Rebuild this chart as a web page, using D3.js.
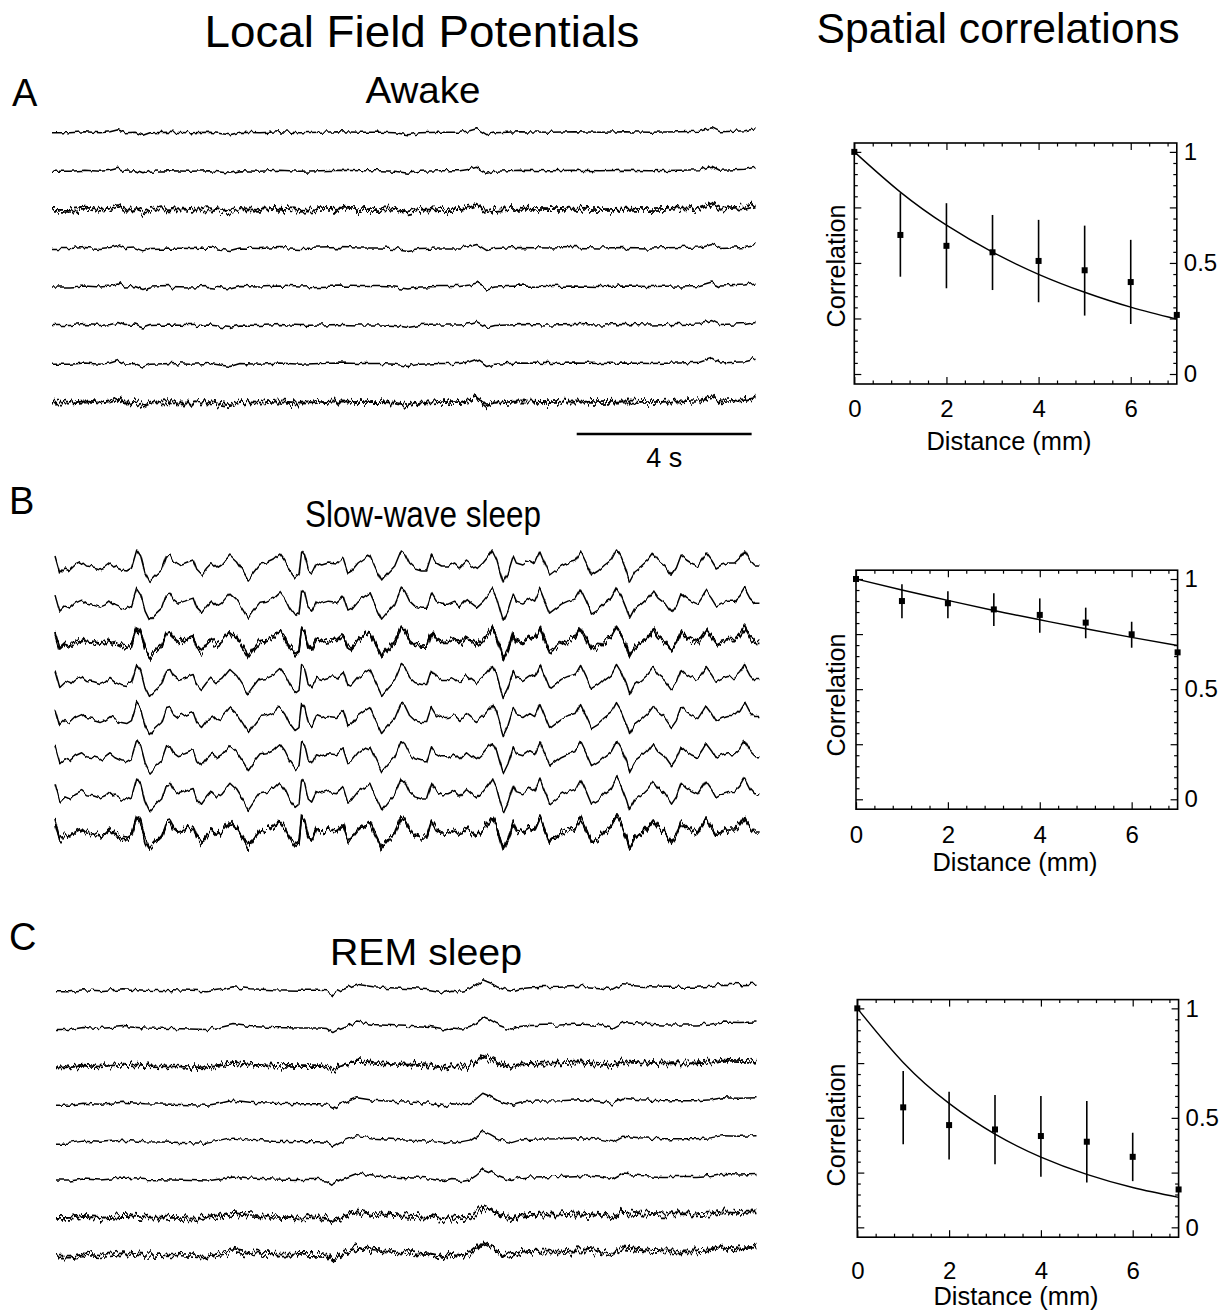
<!DOCTYPE html>
<html>
<head>
<meta charset="UTF-8">
<title>Local Field Potentials / Spatial correlations</title>
<script src="https://d3js.org/d3.v7.min.js"></script>
<style>
  body { margin: 0; background: #fff; }
  text { font-family: "Liberation Sans", Arial, sans-serif; fill: #000; }
</style>
</head>
<body>
<svg id="fig" width="1226" height="1310"></svg>
<script>
// ---- LFP traces: [time (s), amplitude (a.u.)], shared shape of each state ----
const channels = [1, 2, 3, 4, 5, 6, 7, 8];

const awakeWave = [[0,0],[0.41,0],[0.75,1],[1.10,0],[1.33,1],[1.51,3],[1.67,0],[1.90,0.5],[2.08,-2.5],[2.24,0],
  [2.70,0.5],[3.15,0],[3.61,0.5],[4.07,-2],[4.30,0.5],[4.75,0],[5.21,1],[5.67,0],[6.13,0.5],[6.58,1],[7.04,0.5],
  [7.50,0.5],[7.84,0],[8.14,-2],[8.41,0],[8.87,0.5],[9.33,0.5],[9.55,2],[9.71,4],[9.83,1],[9.94,-2],[10.13,0],
  [10.70,1],[11.38,0.5],[11.95,1],[12.53,0.5],[13.10,1],[13.67,0.5],[14.35,1],[14.81,1.5],[15.09,5],[15.27,1],
  [15.61,1.5],[15.84,2],[16.09,4]];

const swsWave = [[0.00,12],[0.11,-5],[0.23,0],[0.34,-2],[0.46,3],[0.61,6],[0.72,2],[0.87,1],[1.03,-1],[1.14,1],
  [1.26,5],[1.37,1],[1.52,-2],[1.64,-3],[1.75,0],[1.87,18],[1.96,12],[2.06,-5],[2.16,-14],[2.29,-8],[2.44,-2],
  [2.55,12],[2.63,13],[2.70,7],[2.82,3],[2.97,5],[3.09,7],[3.16,8],[3.24,-2],[3.35,-7],[3.47,0],[3.58,5],
  [3.70,0],[3.81,3],[4.00,13],[4.15,7],[4.30,-3],[4.42,-12],[4.53,-5],[4.69,4],[4.84,5],[4.99,8],[5.14,14],
  [5.26,7],[5.37,-3],[5.49,-10],[5.58,-7],[5.64,17],[5.71,13],[5.79,-2],[5.87,-5],[5.98,5],[6.10,3],[6.25,5],
  [6.44,4],[6.59,10],[6.70,-5],[6.78,-3],[6.93,5],[7.09,10],[7.20,13],[7.31,2],[7.47,-13],[7.62,-5],[7.77,2],
  [7.92,18],[8.00,15],[8.11,5],[8.23,0],[8.38,-2],[8.50,-2],[8.61,13],[8.72,5],[8.84,2],[8.99,2],[9.14,5],
  [9.26,0],[9.41,7],[9.52,3],[9.64,-1],[9.79,5],[9.94,13],[10.00,17],[10.10,8],[10.17,-3],[10.25,-15],
  [10.36,-5],[10.48,12],[10.55,5],[10.70,3],[10.86,8],[10.97,5],[11.09,17],[11.20,5],[11.31,-7],[11.43,-3],
  [11.58,2],[11.73,5],[11.89,7],[12.02,17],[12.15,5],[12.27,-7],[12.42,-3],[12.57,3],[12.72,8],[12.84,18],
  [12.95,10],[13.07,-3],[13.14,-13],[13.26,-3],[13.41,2],[13.56,8],[13.68,15],[13.79,8],[13.94,3],[14.10,-7],
  [14.21,0],[14.32,13],[14.44,8],[14.55,5],[14.70,2],[14.82,10],[14.89,15],[15.01,8],[15.12,0],[15.24,3],
  [15.39,5],[15.54,5],[15.66,10],[15.77,18],[15.89,8],[16.00,3],[16.11,3]];

const remWave = [[0,0],[0.32,0],[0.62,2],[1.01,1],[1.53,3],[2.03,1.5],[2.67,1],[3.45,0],[3.75,2],[4.05,5],
  [4.43,3],[4.96,2],[5.58,1.5],[6.03,1.5],[6.19,1],[6.33,-3],[6.49,1],[6.88,7.5],[7.25,5],[7.86,3.5],[8.16,3],
  [8.55,2],[8.89,-0.5],[9.05,1.5],[9.28,0.5],[9.46,2],[9.60,6],[9.76,12],[9.92,9],[10.08,5],[10.26,2],
  [10.42,0.5],[10.61,3],[10.83,4],[11.52,4.5],[11.98,5.5],[12.43,4],[12.73,1.5],[12.96,7],[13.35,5.5],
  [13.87,4.5],[14.65,4.5],[14.99,5.5],[15.24,7.5],[15.63,7],[16.02,7.5]];

// relative amplitude of each channel, and channels with strong fast noise
const awakeGain = [1, 1, 1.3, 1, 1, 1, 1.2, 1.3];
const swsGain   = [1, 1, 0.95, 1, 1, 1, 1.05, 1];
const remGain   = [1, 1, 0.9, 1, 1, 1, 1, 1.2];
const awakeNoisy = [3, 8];
const swsNoisy   = [3, 8];
const remNoisy   = [3, 7, 8];

// ---- Spatial correlations ----
const distances = [0, 1, 2, 3, 4, 5, 6, 7];
const awakeCorr = [1.0, 0.626, 0.577, 0.548, 0.509, 0.467, 0.414, 0.266];
const awakeLow  = [null, 0.438, 0.386, 0.378, 0.323, 0.263, 0.225, null];
const awakeHigh = [null, 0.814, 0.769, 0.716, 0.694, 0.668, 0.604, null];
const awakeFit  = [1.0, 0.819, 0.670, 0.549, 0.449, 0.368, 0.301, 0.247];

const swsCorr = [1.0, 0.90, 0.89, 0.862, 0.837, 0.802, 0.749, 0.667];
const swsLow  = [null, 0.822, 0.822, 0.787, 0.756, 0.731, 0.688, null];
const swsHigh = [null, 0.976, 0.945, 0.935, 0.912, 0.870, 0.806, null];
const swsFit  = [1.0, 0.950, 0.903, 0.857, 0.815, 0.774, 0.735, 0.698];

const remCorr = [1.0, 0.548, 0.467, 0.447, 0.417, 0.391, 0.322, 0.173];
const remLow  = [null, 0.380, 0.310, 0.288, 0.231, 0.205, 0.211, null];
const remHigh = [null, 0.714, 0.619, 0.604, 0.600, 0.577, 0.432, null];
const remFit  = [1.0, 0.753, 0.566, 0.426, 0.321, 0.242, 0.182, 0.137];

const corrTicks = [0, 0.25, 0.5, 0.75, 1];
const corrTickLabels = ["0", "", "0.5", "", "1"];
const distTicks = [0, 2, 4, 6];

const svg = d3.select("#fig");
const defs = svg.append("defs");

// vertical-only jitter to give the traces their fast ripple
function addJitter(id, scale, seed, fx) {
  const f = defs.append("filter").attr("id", id)
    .attr("filterUnits", "userSpaceOnUse")
    .attr("x", 0).attr("y", 0).attr("width", 1226).attr("height", 1310)
    .attr("color-interpolation-filters", "sRGB");
  f.append("feTurbulence").attr("type", "fractalNoise")
    .attr("baseFrequency", fx + " 0.03").attr("numOctaves", 2)
    .attr("seed", seed).attr("result", "noise");
  f.append("feColorMatrix").attr("in", "noise").attr("type", "matrix")
    .attr("values", "0 0 0 0 0.5  0 1 0 0 0  0 0 1 0 0  0 0 0 0 1")
    .attr("result", "map");
  f.append("feDisplacementMap").attr("in", "SourceGraphic").attr("in2", "map")
    .attr("scale", scale).attr("xChannelSelector", "R").attr("yChannelSelector", "G");
}
addJitter("jitLow", 7, 2, 0.2);
addJitter("jitHighA", 15, 7, 0.3);
addJitter("jitHighB", 15, 11, 0.3);

function text(x, y, str, size, len, anchor) {
  const t = svg.append("text").attr("x", x).attr("y", y)
    .attr("font-size", size).attr("text-anchor", anchor || "middle").text(str);
  if (len) t.attr("textLength", len).attr("lengthAdjust", "spacingAndGlyphs");
  return t;
}

// headings
text(422, 47, "Local Field Potentials", 44, 435);
text(998, 43, "Spatial correlations", 43, 363);
text(12, 106, "A", 38, null, "start");
text(9, 514, "B", 38, null, "start");
text(9, 950, "C", 38, null, "start");
text(423, 103, "Awake", 36, 115);
text(423, 527, "Slow-wave sleep", 37, 236);
text(426, 965, "REM sleep", 37, 192);

function drawTraces(wave, gains, noisy, x0, rowTop, rowBottom) {
  const x = d3.scaleLinear().domain([0, 16.1]).range([x0, x0 + 704]);
  const row = d3.scalePoint().domain(channels).range([rowTop, rowBottom]);
  const amp = d3.scaleLinear().domain([0, 1]).range([0, -1]);
  const g = svg.append("g");
  channels.forEach((ch, i) => {
    const line = d3.line()
      .x(d => x(d[0]))
      .y(d => row(ch) + amp(d[1] * gains[i]));
    const heavy = noisy.includes(ch);
    const filters = heavy ? ["jitHighA", "jitHighB"] : ["jitLow"];
    filters.forEach(f => {
      g.append("path")
        .datum(wave)
        .attr("fill", "none")
        .attr("stroke", "#000")
        .attr("stroke-width", heavy ? 1.7 : 1.5)
        .attr("stroke-linejoin", "round")
        .attr("filter", `url(#${f})`)
        .attr("d", line);
    });
  });
  return x;
}

const xAwake = drawTraces(awakeWave, awakeGain, awakeNoisy, 52, 132.7, 402.7);
drawTraces(swsWave, swsGain, swsNoisy, 55, 568, 835);
drawTraces(remWave, remGain, remNoisy, 56, 991.7, 1256.7);

// 4 s scale bar
svg.append("line")
  .attr("x1", xAwake(12)).attr("x2", xAwake(16))
  .attr("y1", 434).attr("y2", 434)
  .attr("stroke", "#000").attr("stroke-width", 2.5);
text((xAwake(12) + xAwake(16)) / 2, 467, "4 s", 27);

function drawCorr(mean, low, high, fit, box, labels) {
  const x = d3.scaleLinear().domain([0, 7]).range([box.left, box.right]);
  const y = d3.scaleLinear().domain([-0.045, 1.04]).range([box.bottom, box.top]);
  const g = svg.append("g");

  const minorY = d3.range(0, 1.0001, 0.05).filter(v => !corrTicks.some(t => Math.abs(t - v) < 1e-6));
  const minorX = d3.range(0, 7.0001, 0.4).filter(v => !distTicks.some(t => Math.abs(t - v) < 1e-6));

  function axis(gen, tr, vals, size, fmt, pad) {
    const a = g.append("g").attr("transform", tr)
      .call(gen.tickValues(vals).tickSize(size).tickPadding(pad || 3).tickFormat(fmt));
    a.select(".domain").remove();
    a.selectAll("line").attr("stroke", "#000").attr("stroke-width", 1.2);
    a.selectAll("text").attr("font-size", 24).attr("font-family", "Liberation Sans, Arial, sans-serif").attr("fill", "#000");
    return a;
  }
  const none = () => "";
  axis(d3.axisLeft(y), `translate(${box.left},0)`, corrTicks, -7, none);
  axis(d3.axisLeft(y), `translate(${box.left},0)`, minorY, -3.5, none);
  axis(d3.axisRight(y), `translate(${box.right},0)`, corrTicks, -7, (d, i) => corrTickLabels[i], 7);
  axis(d3.axisRight(y), `translate(${box.right},0)`, minorY, -3.5, none);
  axis(d3.axisBottom(x), `translate(0,${box.bottom})`, distTicks, -7, d3.format("d"), labels.tickPad);
  axis(d3.axisBottom(x), `translate(0,${box.bottom})`, minorX, -3.5, none);
  axis(d3.axisTop(x), `translate(0,${box.top})`, distTicks, -7, none);
  axis(d3.axisTop(x), `translate(0,${box.top})`, minorX, -3.5, none);

  g.append("rect")
    .attr("x", box.left).attr("y", box.top)
    .attr("width", box.right - box.left).attr("height", box.bottom - box.top)
    .attr("fill", "none").attr("stroke", "#000").attr("stroke-width", 1.6);

  // exponential fit
  g.append("path")
    .datum(distances.map((d, i) => [d, fit[i]]))
    .attr("fill", "none").attr("stroke", "#000").attr("stroke-width", 1.4)
    .attr("d", d3.line().x(d => x(d[0])).y(d => y(d[1])).curve(d3.curveNatural));

  // error bars
  g.selectAll(".err")
    .data(distances.filter((d, i) => low[i] !== null))
    .join("line")
    .attr("x1", d => x(d)).attr("x2", d => x(d))
    .attr("y1", d => y(low[d])).attr("y2", d => y(high[d]))
    .attr("stroke", "#000").attr("stroke-width", 1.6);

  // mean markers
  g.selectAll(".pt")
    .data(distances)
    .join("rect")
    .attr("x", d => x(d) - 3).attr("y", (d, i) => y(mean[i]) - 3)
    .attr("width", 6).attr("height", 6)
    .attr("fill", "#000");

  svg.append("text")
    .attr("transform", `translate(845,${labels.corrY}) rotate(-90)`)
    .attr("font-size", 25).attr("text-anchor", "middle")
    .attr("textLength", 123).attr("lengthAdjust", "spacingAndGlyphs")
    .text("Correlation");
  text(labels.distX, labels.distY, "Distance (mm)", 25, 165);
}

drawCorr(awakeCorr, awakeLow, awakeHigh, awakeFit,
  { left: 854.3, right: 1176.8, top: 143, bottom: 384 },
  { corrY: 266, distX: 1009, distY: 450, tickPad: 16 });
drawCorr(swsCorr, swsLow, swsHigh, swsFit,
  { left: 856, right: 1177.6, top: 570.2, bottom: 809.2 },
  { corrY: 695, distX: 1015, distY: 871, tickPad: 17 });
drawCorr(remCorr, remLow, remHigh, remFit,
  { left: 857.3, right: 1178.6, top: 999.6, bottom: 1237.2 },
  { corrY: 1125, distX: 1016, distY: 1305, tickPad: 25 });
</script>
</body>
</html>
